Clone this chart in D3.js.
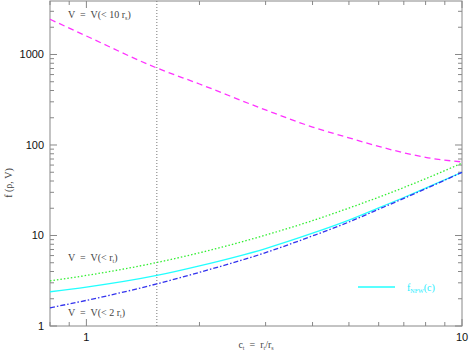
<!DOCTYPE html>
<html>
<head>
<meta charset="utf-8">
<script src="https://cdn.jsdelivr.net/npm/d3@7"></script>
<style>
  body { margin: 0; background: #fff; }
  svg { display: block; }
  text { white-space: pre; }
  .tick-label { font-family: "Liberation Sans", Arial, sans-serif; font-size: 11px; fill: #111; }
  .note { font-family: "Liberation Serif", "DejaVu Serif", serif; font-size: 10px; fill: #444; }
</style>
</head>
<body>
<div id="wrapper"></div>
<script>
// concentration c_t values
const cValues = [0.8, 1, 1.54, 2, 3, 4, 5, 6, 7, 8, 10];
// f(rho, V) for each definition of V
const fTenRs  = [2450, 1600, 709, 472, 244, 158, 120, 96.5, 82, 73, 65];
const fRt     = [3.16, 3.62, 5.03, 6.44, 10.1, 14.6, 20.1, 26.5, 33.9, 42.4, 63];
const fNfw    = [2.39, 2.69, 3.62, 4.62, 7.18, 10.6, 14.8, 20.2, 26.3, 33.3, 50];
const fTwoRt  = [1.59, 1.92, 2.92, 3.92, 6.47, 9.9, 14.1, 19.5, 25.7, 32.8, 49.9];
const cMarker = 1.54;

const yMajor = [1, 10, 100, 1000];
const xMajor = [1, 10];

const dimensions = {
  width: 469,
  height: 354,
  left: 50,
  right: 462,
  top: 1,
  bottom: 326,
};

const svg = d3.select('#wrapper')
  .append('svg')
  .attr('width', dimensions.width)
  .attr('height', dimensions.height);

const x = d3.scaleLog().domain([0.8, 10]).range([dimensions.left, dimensions.right]);
const y = d3.scaleLog().domain([1, 3900]).range([dimensions.bottom, dimensions.top]);

const axisColor = '#888';

// frame
svg.append('rect')
  .attr('x', dimensions.left)
  .attr('y', dimensions.top)
  .attr('width', dimensions.right - dimensions.left)
  .attr('height', dimensions.bottom - dimensions.top)
  .attr('fill', 'none')
  .attr('stroke', axisColor)
  .attr('stroke-width', 1);

// ticks (inward, all four sides)
const xTicks = [];
[0.1, 1].forEach(dec => {
  for (let k = 1; k <= 9; k++) {
    const v = +(dec * k).toFixed(3);
    if (v >= 0.8 && v <= 10) xTicks.push(v);
  }
});
xTicks.push(10);
const yTicks = [];
[1, 10, 100, 1000].forEach(dec => {
  for (let k = 1; k <= 9; k++) {
    const v = dec * k;
    if (v <= 3900) yTicks.push(v);
  }
});

const ticks = svg.append('g').attr('stroke', axisColor).attr('stroke-width', 1);
xTicks.forEach(v => {
  const len = xMajor.includes(v) ? 7 : 4;
  const px = x(v);
  ticks.append('line').attr('x1', px).attr('x2', px)
    .attr('y1', dimensions.bottom).attr('y2', dimensions.bottom - len);
  ticks.append('line').attr('x1', px).attr('x2', px)
    .attr('y1', dimensions.top).attr('y2', dimensions.top + len);
});
yTicks.forEach(v => {
  const len = yMajor.includes(v) ? 7 : 4;
  const py = y(v);
  ticks.append('line').attr('x1', dimensions.left).attr('x2', dimensions.left + len)
    .attr('y1', py).attr('y2', py);
  ticks.append('line').attr('x1', dimensions.right).attr('x2', dimensions.right - len)
    .attr('y1', py).attr('y2', py);
});

// tick labels
yMajor.forEach(v => {
  svg.append('text').attr('class', 'tick-label')
    .attr('x', dimensions.left - 6)
    .attr('y', y(v) + 4)
    .attr('text-anchor', 'end')
    .text(v);
});
xMajor.forEach(v => {
  svg.append('text').attr('class', 'tick-label')
    .attr('x', x(v))
    .attr('y', dimensions.bottom + 15)
    .attr('text-anchor', 'middle')
    .text(v);
});

// axis titles
svg.append('text').attr('class', 'note')
  .attr('transform', 'translate(12,183) rotate(-90)')
  .attr('text-anchor', 'middle')
  .attr('fill', '#333')
  .text('f (ρ, V)');

const xTitle = svg.append('text').attr('class', 'note')
  .attr('x', 256).attr('y', 348)
  .attr('text-anchor', 'middle');
xTitle.append('tspan').text('c');
xTitle.append('tspan').attr('font-size', '6px').attr('dy', 2).text('t');
xTitle.append('tspan').attr('dy', -2).text('  =  r');
xTitle.append('tspan').attr('font-size', '6px').attr('dy', 2).text('t');
xTitle.append('tspan').attr('dy', -2).text('/r');
xTitle.append('tspan').attr('font-size', '6px').attr('dy', 2).text('s');

// vertical marker
svg.append('line')
  .attr('x1', x(cMarker)).attr('x2', x(cMarker))
  .attr('y1', dimensions.top).attr('y2', dimensions.bottom)
  .attr('stroke', '#777')
  .attr('stroke-width', 1)
  .attr('stroke-dasharray', '1,2');

// curves
const line = d3.line()
  .x(d => x(d[0]))
  .y(d => y(d[1]))
  .curve(d3.curveMonotoneX);

const series = [
  { values: fTenRs, color: '#ff33ff', dash: '6,4' },
  { values: fRt, color: '#33ee33', dash: '1.5,2' },
  { values: fNfw, color: '#22ffff', dash: null },
  { values: fTwoRt, color: '#3333ee', dash: '5,2,1.5,2' },
];

const plot = svg.append('g');
series.forEach(s => {
  plot.append('path')
    .attr('d', line(cValues.map((c, i) => [c, s.values[i]])))
    .attr('fill', 'none')
    .attr('stroke', s.color)
    .attr('stroke-width', 1.3)
    .attr('stroke-dasharray', s.dash);
});

// annotations
function note(tx, ty, sub) {
  const t = svg.append('text').attr('class', 'note').attr('x', tx).attr('y', ty);
  t.append('tspan').text(sub[0]);
  t.append('tspan').attr('font-size', '6px').attr('dy', 2).text(sub[1]);
  t.append('tspan').attr('dy', -2).text(')');
  return t;
}
note(68, 18, ['V  =  V(< 10 r', 's']);
note(68, 261, ['V  =  V(< r', 't']);
note(68, 316, ['V  =  V(< 2 r', 't']);

// legend
svg.append('line')
  .attr('x1', 358).attr('x2', 395)
  .attr('y1', 287).attr('y2', 287)
  .attr('stroke', '#22ffff')
  .attr('stroke-width', 1.3);
const leg = svg.append('text').attr('class', 'note')
  .attr('x', 407).attr('y', 291)
  .style('fill', '#22eeff');
leg.append('tspan').text('f');
leg.append('tspan').attr('font-size', '6px').attr('dy', 2).text('NFW');
leg.append('tspan').attr('dy', -2).text('(c)');
</script>
</body>
</html>
